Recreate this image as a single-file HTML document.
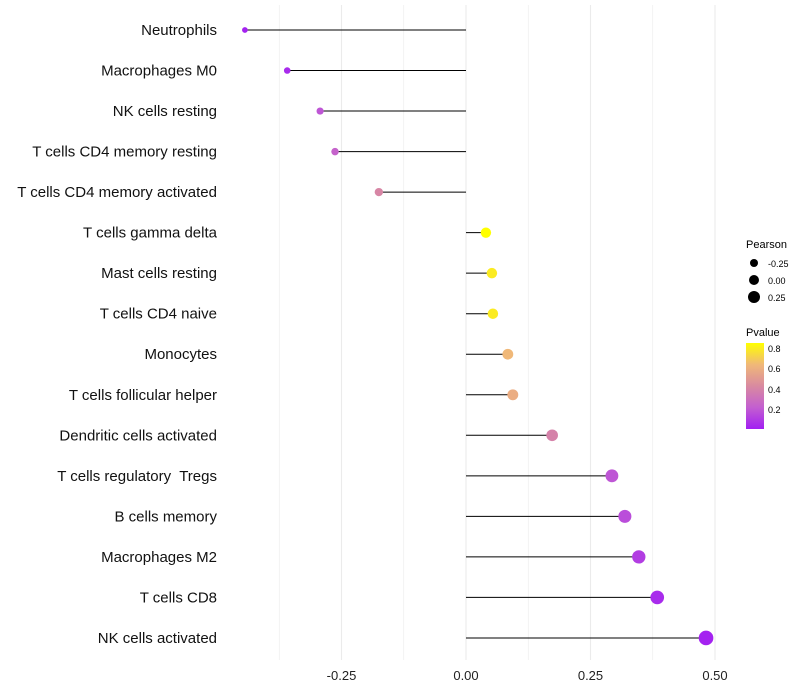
<!DOCTYPE html>
<html><head><meta charset="utf-8"><style>
body{margin:0;background:#fff;font-family:"Liberation Sans",sans-serif}
svg{display:block}
#labels text{white-space:pre}
</style></head><body>
<svg id="chart" width="800" height="700">
<defs><linearGradient id="pg" x1="0" y1="1" x2="0" y2="0">
<stop offset="0" stop-color="#a21ff2"/><stop offset="0.25" stop-color="#c35fd0"/><stop offset="0.5" stop-color="#d98aa0"/><stop offset="0.75" stop-color="#f0b878"/><stop offset="1" stop-color="#ffff00"/>
</linearGradient></defs>
<g id="grid"></g><g id="marks"></g><g id="labels"></g>
<g>
<text x="746" y="248" font-size="11">Pearson</text>
<circle cx="754" cy="263" r="4"/><text x="768" y="267" font-size="9">-0.25</text>
<circle cx="754" cy="280" r="5"/><text x="768" y="284" font-size="9">0.00</text>
<circle cx="754" cy="297" r="6"/><text x="768" y="301" font-size="9">0.25</text>
<text x="746" y="336" font-size="11">Pvalue</text>
<rect x="746" y="343" width="18" height="86" fill="url(#pg)"/>
<text x="768" y="352" font-size="9">0.8</text>
<text x="768" y="372" font-size="9">0.6</text>
<text x="768" y="393" font-size="9">0.4</text>
<text x="768" y="413" font-size="9">0.2</text>
</g>
</svg>
<script>
const categories=["Neutrophils","Macrophages M0","NK cells resting","T cells CD4 memory resting","T cells CD4 memory activated","T cells gamma delta","Mast cells resting","T cells CD4 naive","Monocytes","T cells follicular helper","Dendritic cells activated","T cells regulatory  Tregs","B cells memory","Macrophages M2","T cells CD8","NK cells activated"];
const pearson=[-0.444,-0.359,-0.293,-0.263,-0.175,0.040,0.052,0.054,0.084,0.094,0.173,0.293,0.319,0.347,0.384,0.482];
const pvalue=[0.03,0.06,0.2,0.25,0.42,0.86,0.8,0.8,0.65,0.6,0.4,0.2,0.17,0.12,0.06,0.03];
const ticks=[-0.25,0,0.25,0.5];
const tickLabels=["-0.25","0.00","0.25","0.50"];
const NS="http://www.w3.org/2000/svg";
const x=v=>466+v*498;
const y=i=>30+i*40.53;
function col(p){
  const t=Math.max(0,Math.min(1,(p-0.02)/0.84));
  const st=[[162,31,242],[195,95,208],[217,138,160],[240,184,120],[255,255,0]];
  const s=t*4,k=Math.min(3,Math.floor(s)),f=s-k;
  const c=st[k].map((a,j)=>Math.round(a+(st[k+1][j]-a)*f));
  return `rgb(${c})`;
}
function mk(tag,a,parent){const e=document.createElementNS(NS,tag);for(const k in a)e.setAttribute(k,a[k]);document.getElementById(parent).appendChild(e);return e;}
const grid=[-0.375,-0.25,-0.125,0,0.125,0.25,0.375,0.5];
grid.forEach(g=>{const l=mk('line',{x1:x(g),x2:x(g),y1:5,y2:660,stroke:'#ebebeb','stroke-width':g*8%2===0?1.1:0.6},'grid');

});
ticks.forEach((t,i)=>{const e=mk('text',{x:x(t),y:680,'font-size':13,'text-anchor':'middle',fill:'#222'},'labels');e.textContent=tickLabels[i];

});
categories.forEach((c,i)=>{
 const t=mk('text',{x:217,y:y(i)+5,'font-size':15,'text-anchor':'end',fill:'#111'},'labels');t.textContent=c;
 
 
 const l=mk('line',{x1:x(0),x2:x(pearson[i]),y1:y(i),y2:y(i),stroke:'#000','stroke-width':1},'marks');
 
 
 const p=mk('circle',{cx:x(pearson[i]),cy:y(i),r:5+pearson[i]*4.8,fill:col(pvalue[i])},'marks');
 
 
});
</script>
</body></html>
